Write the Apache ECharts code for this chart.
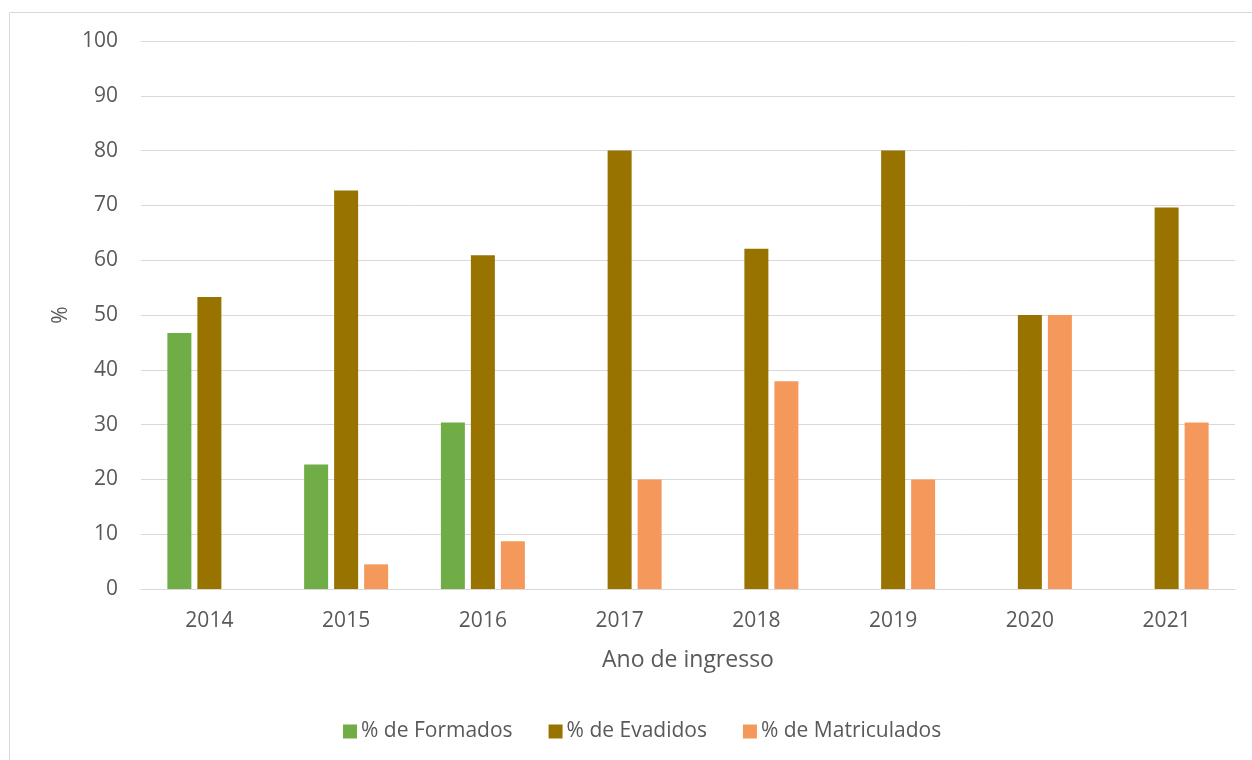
<!DOCTYPE html>
<html>
<head>
<meta charset="utf-8">
<script src="https://cdn.jsdelivr.net/npm/echarts@6/dist/echarts.min.js"></script>
<style>
  html, body { margin: 0; padding: 0; background: #fff; }
  #chart { width: 1252px; height: 760px; }
</style>
</head>
<body>
<div id="chart"></div>
<script>
const years = ["2014", "2015", "2016", "2017", "2018", "2019", "2020", "2021"];
const formados = [46.7, 22.7, 30.4, 0, 0, 0, 0, 0];
const evadidos = [53.3, 72.7, 60.9, 80, 62.1, 80, 50, 69.6];
const matriculados = [0, 4.5, 8.7, 20, 37.9, 20, 50, 30.4];

const textColor = "#595959";
const font = "'Open Sans', 'Noto Sans', sans-serif";

const chart = echarts.init(document.getElementById("chart"));

chart.setOption({
  animation: false,
  textStyle: { fontFamily: font, color: textColor },
  // outer chart border
  graphic: [
    {
      type: "rect",
      shape: { x: 9.5, y: 12.5, width: 1300, height: 800 },
      style: { fill: "none", stroke: "#d9d9d9", lineWidth: 1 },
      silent: true,
    },
  ],
  grid: { left: 141, right: 17, top: 41, bottom: 171 },
  legend: {
    bottom: 13,
    left: 338,
    itemWidth: 14,
    itemHeight: 14,
    itemGap: 36,
    icon: "rect",
    textStyle: { fontFamily: font, fontSize: 21, color: textColor, padding: [0, 0, 0, -1] },
    data: ["% de Formados", "% de Evadidos", "% de Matriculados"],
  },
  xAxis: {
    type: "category",
    data: years,
    name: "Ano de ingresso",
    nameLocation: "middle",
    nameGap: 60,
    nameTextStyle: { fontFamily: font, fontSize: 23, color: textColor },
    axisLine: { lineStyle: { color: "#d9d9d9", width: 1 } },
    axisTick: { show: false },
    axisLabel: { fontFamily: font, fontSize: 21, color: textColor, margin: 22 },
  },
  yAxis: {
    type: "value",
    min: 0,
    max: 100,
    interval: 10,
    name: "%",
    nameLocation: "middle",
    nameRotate: 90,
    nameGap: 68,
    nameTextStyle: { fontFamily: font, fontSize: 21, color: textColor },
    axisLine: { show: false },
    axisTick: { show: false },
    axisLabel: { fontFamily: font, fontSize: 21, color: textColor, margin: 23 },
    splitLine: { lineStyle: { color: "#d9d9d9", width: 1 } },
  },
  series: [
    {
      name: "% de Formados",
      type: "bar",
      data: formados,
      barWidth: 24,
      barGap: "25%",
      itemStyle: { color: "#70ad47" },
    },
    {
      name: "% de Evadidos",
      type: "bar",
      data: evadidos,
      barWidth: 24,
      barGap: "25%",
      itemStyle: { color: "#997300" },
    },
    {
      name: "% de Matriculados",
      type: "bar",
      data: matriculados,
      barWidth: 24,
      barGap: "25%",
      itemStyle: { color: "#f4995b" },
    },
  ],
});
</script>
</body>
</html>
